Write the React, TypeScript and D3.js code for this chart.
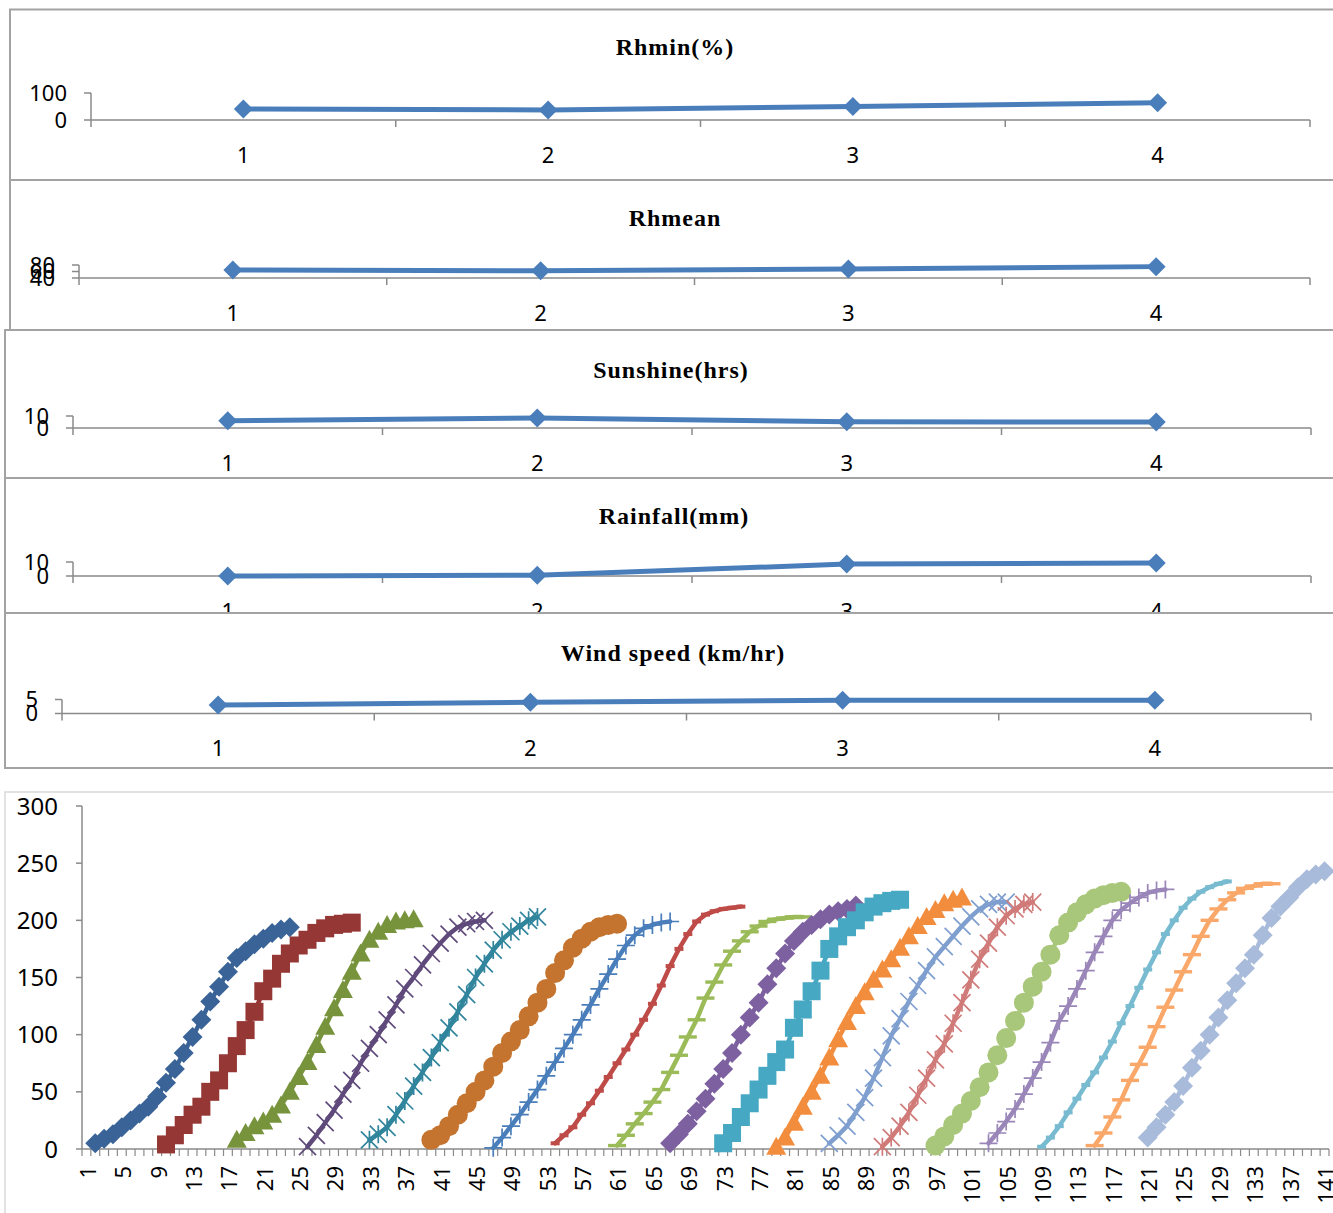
import React from "react";
import * as d3 from "d3";

// ---------- Top panels data ----------
const categories = ["1", "2", "3", "4"];
const rhmin = [41, 37, 50, 64];
const rhmean = [65, 62, 68, 75];
const sunshine = [6.1, 8.3, 5.2, 5.0];
const rainfall = [0, 0.6, 8.5, 9.3];
const windSpeed = [3.0, 4.0, 4.7, 4.7];

const panelTitles = ["Rhmin(%)", "Rhmean", "Sunshine(hrs)", "Rainfall(mm)", "Wind speed (km/hr)"];
const rhminTicks = [0, 100];
const rhmeanTicks = [40, 60, 80];
const sunshineTicks = [0, 10];
const rainfallTicks = [0, 10];
const windTicks = [0, 5];

// ---------- Bottom chart data ----------
const dayCount = 141;
const bottomYTicks = [0, 50, 100, 150, 200, 250, 300];
const seriesStarts = [2, 10, 18, 26, 33, 40, 47, 54, 61, 67, 73, 79, 85, 91, 97, 103, 109, 115, 121];
const s1 = [5, 9, 13, 19, 25, 31, 37, 46, 58, 70, 84, 98, 113, 129, 142, 155, 167, 173, 179, 184, 189, 192, 194];
const s2 = [4, 12, 21, 30, 37, 50, 60, 75, 90, 104, 120, 138, 149, 162, 171, 178, 183, 189, 193, 196, 197, 198];
const s3 = [8, 14, 20, 24, 30, 38, 50, 63, 76, 91, 107, 123, 139, 155, 171, 183, 190, 196, 199, 200, 201];
const s4 = [2, 12, 23, 34, 48, 60, 75, 88, 100, 113, 126, 140, 150, 161, 171, 180, 188, 194, 197, 199, 200];
const s5 = [8, 13, 19, 30, 42, 55, 67, 80, 93, 106, 120, 135, 150, 162, 174, 183, 190, 195, 200, 203];
const s6 = [8, 12, 20, 30, 40, 50, 60, 72, 84, 94, 104, 116, 128, 140, 154, 165, 176, 184, 190, 194, 196, 197];
const s7 = [1, 10, 20, 30, 41, 52, 64, 76, 88, 100, 113, 126, 140, 153, 166, 178, 187, 193, 196, 198, 199];
const s8 = [5, 12, 19, 30, 40, 51, 63, 75, 87, 100, 113, 127, 143, 160, 175, 188, 199, 205, 208, 210, 211, 212];
const s9 = [3, 12, 22, 31, 41, 52, 67, 82, 98, 113, 132, 146, 161, 173, 182, 190, 195, 199, 201, 202, 203, 203];
const s10 = [5, 13, 22, 33, 44, 57, 70, 84, 100, 115, 128, 144, 158, 171, 182, 190, 196, 201, 205, 208, 210, 213];
const s11 = [5, 14, 28, 40, 52, 64, 76, 87, 106, 122, 138, 156, 175, 186, 194, 200, 207, 212, 215, 217, 218];
const s12 = [2, 10, 23, 37, 50, 64, 80, 96, 111, 125, 137, 148, 157, 166, 176, 186, 195, 203, 209, 215, 218, 220];
const s13 = [5, 12, 20, 32, 45, 62, 80, 99, 114, 129, 143, 156, 168, 177, 186, 195, 203, 210, 214, 216, 216];
const s14 = [2, 10, 20, 32, 47, 62, 78, 92, 110, 128, 148, 166, 180, 194, 204, 210, 214, 216];
const s15 = [3, 11, 21, 31, 42, 54, 67, 82, 97, 112, 128, 142, 155, 170, 187, 198, 207, 214, 219, 222, 224, 225];
const s16 = [5, 14, 24, 35, 48, 62, 76, 93, 112, 125, 140, 156, 172, 186, 200, 209, 215, 220, 224, 226, 227];
const s17 = [2, 10, 20, 32, 44, 56, 67, 80, 94, 110, 125, 141, 157, 172, 188, 200, 211, 219, 225, 229, 232, 234];
const s18 = [3, 14, 28, 43, 60, 74, 89, 107, 124, 139, 155, 170, 186, 200, 210, 218, 224, 228, 230, 232, 232];
const s19 = [10, 19, 30, 41, 55, 71, 86, 100, 115, 130, 145, 158, 170, 187, 202, 212, 220, 229, 236, 240, 243];
const seriesValues = [s1, s2, s3, s4, s5, s6, s7, s8, s9, s10, s11, s12, s13, s14, s15, s16, s17, s18, s19];

const seriesColors = [
  "#3A6397", "#953735", "#77933C", "#5F4A7B", "#31859C", "#C4742F",
  "#4A7EBB", "#BE4B48", "#9BBB59", "#7D60A0", "#46A8C2", "#F38D3E",
  "#7F9FCF", "#D07B79", "#A9C77A", "#9A86B8", "#78BBD0", "#F9A86A", "#A9BBDA",
];
const seriesMarkers = [
  "diamond", "square", "triangle", "x", "star", "circle",
  "plus", "dash", "longdash", "diamond", "square", "triangle",
  "x", "star", "circle", "plus", "dash", "longdash", "diamond",
];

const LABEL_FONT = "'Noto Sans', 'Liberation Sans', sans-serif";
const TITLE_FONT = "'Liberation Serif', 'Times New Roman', serif";
const AXIS = "#8A8A8A";
const BORDER = "#A3A3A3";

type PanelCfg = {
  title: string;
  values: number[];
  ticks: number[];
  domain: [number, number];
  boxX: number; boxY: number; boxH: number;
  x0: number; x1: number; axisY: number; topY: number;
  titleX: number; titleY: number;
};

const panels: PanelCfg[] = [
  { title: panelTitles[0], values: rhmin, ticks: rhminTicks, domain: [0, 100], boxX: 10, boxY: 9.5, boxH: 170.5, x0: 91, x1: 1310, axisY: 120, topY: 93, titleX: 675, titleY: 55 },
  { title: panelTitles[1], values: rhmean, ticks: rhmeanTicks, domain: [40, 80], boxX: 10, boxY: 180, boxH: 150, x0: 79, x1: 1310, axisY: 278, topY: 265, titleX: 675, titleY: 226 },
  { title: panelTitles[2], values: sunshine, ticks: sunshineTicks, domain: [0, 10], boxX: 5, boxY: 330, boxH: 148, x0: 73, x1: 1311, axisY: 428, topY: 416, titleX: 671, titleY: 378 },
  { title: panelTitles[3], values: rainfall, ticks: rainfallTicks, domain: [0, 10], boxX: 5, boxY: 478, boxH: 135, x0: 73, x1: 1311, axisY: 576, topY: 562, titleX: 674, titleY: 524 },
  { title: panelTitles[4], values: windSpeed, ticks: windTicks, domain: [0, 5], boxX: 5, boxY: 613, boxH: 155, x0: 62, x1: 1311, axisY: 713.5, topY: 699.5, titleX: 673, titleY: 661 },
];

function Panel({ p }: { p: PanelCfg }) {
  const x = d3.scaleBand<string>().domain(categories).range([p.x0, p.x1]);
  const y = d3.scaleLinear().domain(p.domain).range([p.axisY, p.topY]);
  const cx = (c: string) => (x(c) as number) + x.bandwidth() / 2;
  const line = d3.line<number>().x((_, i) => cx(categories[i])).y((v) => y(v));
  const bounds = d3.range(categories.length + 1).map((k) => p.x0 + k * x.bandwidth());
  return (
    <g>
      <rect x={p.boxX} y={p.boxY} width={1400} height={p.boxH} fill="#fff" stroke={BORDER} strokeWidth={2} />
      <text x={p.titleX} y={p.titleY} textAnchor="middle" fontFamily={TITLE_FONT} fontWeight="bold" fontSize={24} letterSpacing={1} fill="#000">{p.title}</text>
      <line x1={p.x0} x2={p.x0} y1={p.topY} y2={p.axisY} stroke={AXIS} strokeWidth={1.5} />
      {p.ticks.map((t) => (
        <g key={t}>
          <line x1={p.x0 - 7} x2={p.x0} y1={y(t)} y2={y(t)} stroke={AXIS} strokeWidth={1.5} />
          <text x={p.x0 - 24} y={y(t)} dy="0.36em" textAnchor="end" fontFamily={LABEL_FONT} fontSize={22} fill="#000">{t}</text>
        </g>
      ))}
      <line x1={p.x0} x2={p.x1} y1={p.axisY} y2={p.axisY} stroke={AXIS} strokeWidth={1.5} />
      {bounds.map((b, i) => (
        <line key={i} x1={b} x2={b} y1={p.axisY} y2={p.axisY + 7} stroke={AXIS} strokeWidth={1.5} />
      ))}
      {categories.map((c) => (
        <text key={c} x={cx(c)} y={p.axisY + 35} dy="0.36em" textAnchor="middle" fontFamily={LABEL_FONT} fontSize={22} fill="#000">{c}</text>
      ))}
      <path d={line(p.values) || ""} fill="none" stroke="#4A7EBB" strokeWidth={5} strokeLinejoin="round" />
      {p.values.map((v, i) => {
        const px = cx(categories[i]);
        const py = y(v);
        const r = 9.5;
        return <path key={i} d={`M${px},${py - r}L${px + r},${py}L${px},${py + r}L${px - r},${py}Z`} fill="#4A7EBB" />;
      })}
    </g>
  );
}

function Marker({ type, x, y, color }: { type: string; x: number; y: number; color: string }) {
  switch (type) {
    case "diamond": {
      const r = 10;
      return <path d={`M${x},${y - r}L${x + r},${y}L${x},${y + r}L${x - r},${y}Z`} fill={color} />;
    }
    case "square":
      return <rect x={x - 9} y={y - 9} width={18} height={18} fill={color} />;
    case "triangle":
      return <path d={`M${x},${y - 10}L${x + 10},${y + 8}L${x - 10},${y + 8}Z`} fill={color} />;
    case "circle":
      return <circle cx={x} cy={y} r={10} fill={color} />;
    case "x": {
      const r = 8.5;
      return <path d={`M${x - r},${y - r}L${x + r},${y + r}M${x - r},${y + r}L${x + r},${y - r}`} stroke={color} strokeWidth={1.7} />;
    }
    case "star": {
      const r = 8.5;
      return <path d={`M${x - r},${y - r}L${x + r},${y + r}M${x - r},${y + r}L${x + r},${y - r}M${x},${y - 9}L${x},${y + 9}`} stroke={color} strokeWidth={1.7} />;
    }
    case "plus": {
      const r = 9;
      return <path d={`M${x - r},${y}L${x + r},${y}M${x},${y - r}L${x},${y + r}`} stroke={color} strokeWidth={1.7} />;
    }
    case "dash":
      return <rect x={x - 4.5} y={y - 2} width={9} height={4} fill={color} />;
    case "longdash":
      return <rect x={x - 9} y={y - 1.7} width={18} height={3.4} fill={color} />;
    default:
      return null;
  }
}

function BottomChart() {
  const days = d3.range(1, dayCount + 1);
  const x = d3.scaleBand<number>().domain(days).range([82, 1329]);
  const y = d3.scaleLinear().domain([0, 300]).range([1149, 806]);
  const cx = (d: number) => (x(d) as number) + x.bandwidth() / 2;
  const bounds = d3.range(dayCount + 1).map((k) => 82 + k * x.bandwidth());
  const labelDays = days.filter((d) => (d - 1) % 4 === 0);
  return (
    <g>
      <rect x={5} y={792} width={1400} height={500} fill="#fff" stroke="#D9D9D9" strokeWidth={1.5} />
      <line x1={82} x2={82} y1={806} y2={1149} stroke={AXIS} strokeWidth={1.5} />
      {bottomYTicks.map((t) => (
        <g key={t}>
          <line x1={76} x2={82} y1={y(t)} y2={y(t)} stroke={AXIS} strokeWidth={1.5} />
          <text x={58} y={y(t)} dy="0.36em" textAnchor="end" fontFamily={LABEL_FONT} fontSize={24} fill="#000">{t}</text>
        </g>
      ))}
      <line x1={82} x2={1329} y1={1149} y2={1149} stroke={AXIS} strokeWidth={1.5} />
      {bounds.map((b, i) => (
        <line key={i} x1={b} x2={b} y1={1149} y2={1156} stroke={AXIS} strokeWidth={1.2} />
      ))}
      {labelDays.map((d) => (
        <text key={d} transform={`translate(${cx(d) + 1.5},1166) rotate(-90)`} dy="0.36em" textAnchor="end" fontFamily={LABEL_FONT} fontSize={22} fill="#000">{d}</text>
      ))}
      {seriesValues.map((vals, si) => {
        const start = seriesStarts[si];
        const pts = vals.map((v, i) => [cx(start + i), y(v)] as [number, number]);
        const line = d3.line<[number, number]>().x((p) => p[0]).y((p) => p[1]);
        return (
          <g key={si}>
            <path d={line(pts) || ""} fill="none" stroke={seriesColors[si]} strokeWidth={4.5} strokeLinejoin="round" strokeLinecap="round" />
            {pts.map((p, i) => (
              <Marker key={i} type={seriesMarkers[si]} x={p[0]} y={p[1]} color={seriesColors[si]} />
            ))}
          </g>
        );
      })}
    </g>
  );
}

export default function App() {
  return (
    <svg width={1333} height={1213} style={{ position: "absolute", left: 0, top: 0, background: "#fff" }}>
      <rect x={0} y={0} width={1333} height={1213} fill="#fff" />
      {panels.map((p, i) => (
        <Panel key={i} p={p} />
      ))}
      <BottomChart />
    </svg>
  );
}
